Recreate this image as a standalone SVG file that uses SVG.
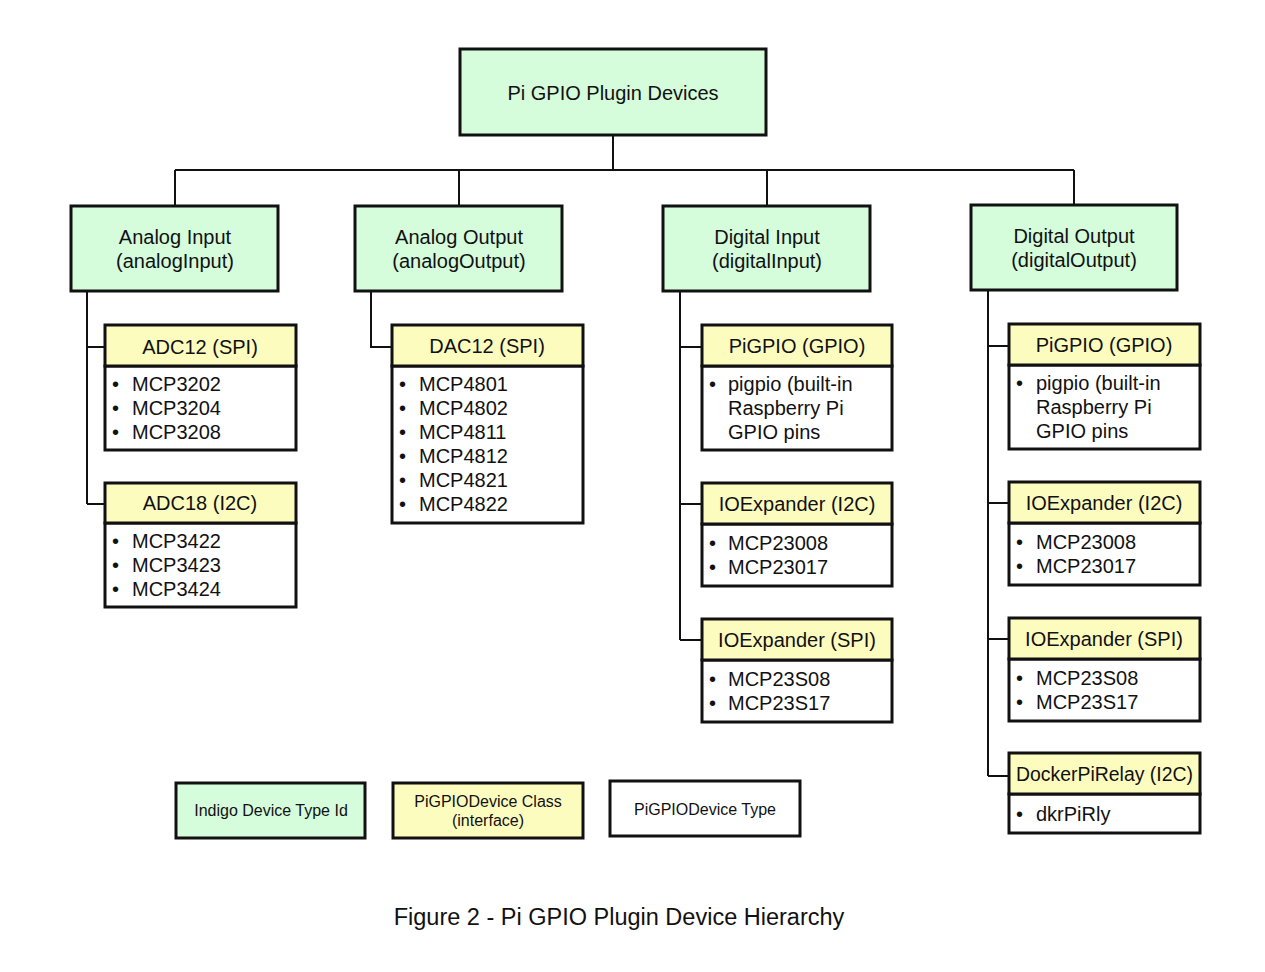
<svg xmlns="http://www.w3.org/2000/svg" width="1265" height="972" viewBox="0 0 1265 972">
<style>
.g{fill:#d5fcdb;stroke:#111;stroke-width:3}
.y{fill:#fdfcbf;stroke:#111;stroke-width:3}
.w{fill:#fff;stroke:#111;stroke-width:3}
.c{fill:none;stroke:#111;stroke-width:2}
text{font-family:"Liberation Sans",Arial,sans-serif;font-size:20px;fill:#111}
.m{text-anchor:middle}
.s{font-size:16px}
.f{font-size:23.5px}
</style>
<rect width="1265" height="972" fill="#fff"/>
<g id="connectors">
<path class="c" d="M613 135V170M175 170H1074M175 170V206M459 170V206M767 170V206M1074 170V205"/>
<path class="c" d="M87 291V504M87 347H105M87 504H105"/>
<path class="c" d="M371 291V347H392"/>
<path class="c" d="M680 291V640M680 347H702M680 504H702M680 640H702"/>
<path class="c" d="M988 290V776M988 346H1009M988 503H1009M988 639H1009M988 776H1009"/>
</g>
<g id="root"><rect class="g" x="460" y="49" width="306" height="86"/><text class="m" x="613" y="100">Pi GPIO Plugin Devices</text></g>
<g id="analogInput"><rect class="g" x="71" y="206" width="207" height="85"/><text class="m" x="175" y="244">Analog Input</text><text class="m" x="175" y="268">(analogInput)</text></g>
<g id="analogOutput"><rect class="g" x="355" y="206" width="207" height="85"/><text class="m" x="459" y="244">Analog Output</text><text class="m" x="459" y="268">(analogOutput)</text></g>
<g id="digitalInput"><rect class="g" x="663" y="206" width="207" height="85"/><text class="m" x="767" y="244">Digital Input</text><text class="m" x="767" y="268">(digitalInput)</text></g>
<g id="digitalOutput"><rect class="g" x="971" y="205" width="206" height="85"/><text class="m" x="1074" y="243">Digital Output</text><text class="m" x="1074" y="267">(digitalOutput)</text></g>

<g id="adc12"><rect class="w" x="105" y="366" width="191" height="84"/><rect class="y" x="105" y="325" width="191" height="41"/><text class="m" x="200" y="354">ADC12 (SPI)</text>
<text x="112" y="391">•</text><text x="132" y="391">MCP3202</text>
<text x="112" y="415">•</text><text x="132" y="415">MCP3204</text>
<text x="112" y="439">•</text><text x="132" y="439">MCP3208</text></g>
<g id="adc18"><rect class="w" x="105" y="523" width="191" height="84"/><rect class="y" x="105" y="483" width="191" height="40"/><text class="m" x="200" y="510">ADC18 (I2C)</text>
<text x="112" y="548">•</text><text x="132" y="548">MCP3422</text>
<text x="112" y="572">•</text><text x="132" y="572">MCP3423</text>
<text x="112" y="596">•</text><text x="132" y="596">MCP3424</text></g>
<g id="dac12"><rect class="w" x="392" y="366" width="191" height="157"/><rect class="y" x="392" y="325" width="191" height="41"/><text class="m" x="487" y="353">DAC12 (SPI)</text>
<text x="399" y="391">•</text><text x="419" y="391">MCP4801</text>
<text x="399" y="415">•</text><text x="419" y="415">MCP4802</text>
<text x="399" y="439">•</text><text x="419" y="439">MCP4811</text>
<text x="399" y="463">•</text><text x="419" y="463">MCP4812</text>
<text x="399" y="487">•</text><text x="419" y="487">MCP4821</text>
<text x="399" y="511">•</text><text x="419" y="511">MCP4822</text></g>

<g id="diPigpio"><rect class="w" x="702" y="366" width="190" height="84"/><rect class="y" x="702" y="325" width="190" height="41"/><text class="m" x="797" y="353">PiGPIO (GPIO)</text>
<text x="709" y="391">•</text><text x="728" y="391">pigpio (built-in</text>
<text x="728" y="415">Raspberry Pi</text>
<text x="728" y="439">GPIO pins</text></g>
<g id="diIoI2c"><rect class="w" x="702" y="524" width="190" height="62"/><rect class="y" x="702" y="483" width="190" height="41"/><text class="m" x="797" y="511">IOExpander (I2C)</text>
<text x="709" y="550">•</text><text x="728" y="550">MCP23008</text>
<text x="709" y="574">•</text><text x="728" y="574">MCP23017</text></g>
<g id="diIoSpi"><rect class="w" x="702" y="660" width="190" height="62"/><rect class="y" x="702" y="619" width="190" height="41"/><text class="m" x="797" y="647">IOExpander (SPI)</text>
<text x="709" y="686">•</text><text x="728" y="686">MCP23S08</text>
<text x="709" y="710">•</text><text x="728" y="710">MCP23S17</text></g>

<g id="doPigpio"><rect class="w" x="1009" y="365" width="191" height="84"/><rect class="y" x="1009" y="324" width="191" height="41"/><text class="m" x="1104" y="352">PiGPIO (GPIO)</text>
<text x="1016" y="390">•</text><text x="1036" y="390">pigpio (built-in</text>
<text x="1036" y="414">Raspberry Pi</text>
<text x="1036" y="438">GPIO pins</text></g>
<g id="doIoI2c"><rect class="w" x="1009" y="523" width="191" height="62"/><rect class="y" x="1009" y="482" width="191" height="41"/><text class="m" x="1104" y="510">IOExpander (I2C)</text>
<text x="1016" y="549">•</text><text x="1036" y="549">MCP23008</text>
<text x="1016" y="573">•</text><text x="1036" y="573">MCP23017</text></g>
<g id="doIoSpi"><rect class="w" x="1009" y="659" width="191" height="62"/><rect class="y" x="1009" y="618" width="191" height="41"/><text class="m" x="1104" y="646">IOExpander (SPI)</text>
<text x="1016" y="685">•</text><text x="1036" y="685">MCP23S08</text>
<text x="1016" y="709">•</text><text x="1036" y="709">MCP23S17</text></g>
<g id="doDocker"><rect class="w" x="1009" y="794" width="191" height="39"/><rect class="y" x="1009" y="753" width="191" height="41"/><text x="1016" y="781" textLength="177" lengthAdjust="spacingAndGlyphs">DockerPiRelay (I2C)</text>
<text x="1016" y="821">•</text><text x="1036" y="821">dkrPiRly</text></g>

<g id="legendGreen"><rect class="g" x="176" y="783" width="189" height="55"/><text class="m s" x="271" y="816">Indigo Device Type Id</text></g>
<g id="legendYellow"><rect class="y" x="393" y="783" width="190" height="55"/><text class="m s" x="488" y="807">PiGPIODevice Class</text><text class="m s" x="488" y="826">(interface)</text></g>
<g id="legendWhite"><rect class="w" x="610" y="781" width="190" height="55"/><text class="m s" x="705" y="815">PiGPIODevice Type</text></g>
<text class="m f" x="619" y="925">Figure 2 - Pi GPIO Plugin Device Hierarchy</text>
</svg>
